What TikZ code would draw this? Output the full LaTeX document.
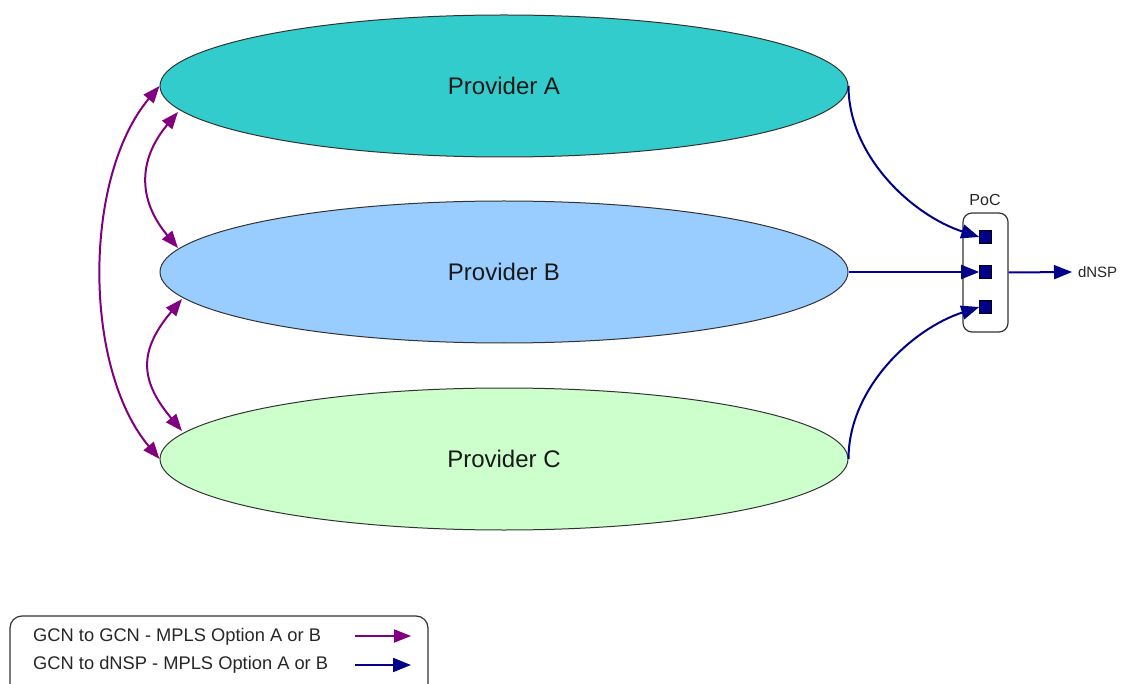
\documentclass[tikz,border=0pt]{standalone}
\usepackage{fontspec}
\setmainfont{Liberation Sans}
\usetikzlibrary{arrows.meta,calc,shapes.geometric}
\definecolor{provA}{HTML}{33CCCC}
\definecolor{provB}{HTML}{99CCFF}
\definecolor{provC}{HTML}{CCFFCC}
\definecolor{gcn}{HTML}{800080}
\definecolor{dnsp}{HTML}{000088}
\definecolor{edge}{HTML}{333333}
\tikzset{
  provider/.style={ellipse, draw=edge, line width=1pt, minimum width=688pt, minimum height=142pt, inner sep=0pt,
    font=\fontsize{24}{28}\selectfont, text=black!90},
  port/.style={rectangle, draw=black, fill=dnsp, line width=0.6pt, minimum width=12pt, minimum height=13pt, inner sep=0pt},
  pocbox/.style={rectangle, rounded corners=9pt, draw=edge, line width=1.2pt, minimum width=45pt, minimum height=119pt, inner sep=0pt},
  smalltext/.style={font=\fontsize{15}{18}\selectfont, text=black!85, inner sep=0pt, outer sep=0pt},
  legtext/.style={font=\fontsize{18.3}{21}\selectfont, text=black!85, inner sep=0pt, anchor=west},
  gcnarrow/.style={draw=gcn, line width=2pt, {Triangle[length=17pt,width=13pt]}-{Triangle[length=17pt,width=13pt]}},
  gcnone/.style={draw=gcn, line width=2pt, -{Triangle[length=17pt,width=13pt]}},
  dnsparrow/.style={draw=dnsp, line width=2pt, -{Triangle[length=18pt,width=14pt]}},
}
\begin{document}
\begin{tikzpicture}[x=1pt,y=-1pt]
\useasboundingbox (0,0) rectangle (1129,684);
% providers
\node[provider, fill=provA] (A) at (504,86) {Provider A};
\node[provider, fill=provB] (B) at (504,272) {Provider B};
\node[provider, fill=provC] (C) at (504,459) {Provider C};
% PoC
\node[pocbox] (poc) at (985.5,272.5) {};
\node[smalltext, font=\fontsize{16}{19}\selectfont] (poclabel) at (985,200) {PoC};
\node[port] (s1) at (985.5,237) {};
\node[port] (s2) at (985.5,272) {};
\node[port] (s3) at (985.5,307) {};
\node[smalltext, anchor=west] (out) at (1078,272) {dNSP};
\coordinate (outend) at ($(out.west)+(-6,0)$);
% border points for GCN links
\coordinate (a1) at ($(A.center)+(-326,26)$);
\coordinate (b1) at ($(B.center)+(-326,-24)$);
\coordinate (b2) at ($(B.center)+(-322,27)$);
\coordinate (c1) at ($(C.center)+(-322,-28)$);
% GCN links
\draw[gcnarrow] (A.west) to[out=230,in=130,looseness=0.82] (C.west);
\draw[gcnarrow] (a1) to[out=230,in=130,looseness=1.18] (b1);
\draw[gcnarrow] (b2) to[out=230,in=130,looseness=1.3] (c1);
% dNSP links
\draw[dnsparrow] (A.east) to[out=-90,in=162,looseness=0.9] (s1.west);
\draw[dnsparrow] (B.east) -- (s2.west);
\draw[dnsparrow] (C.east) to[out=90,in=198,looseness=0.9] (s3.west);
\draw[dnsparrow] (poc.east) -- (outend);
% legend
\node[draw=edge, line width=1.2pt, rounded corners=12pt, minimum width=418pt, minimum height=90pt, inner sep=0pt] (legend) at (219,661) {};
\node[legtext] (l1) at (33,637) {GCN to GCN - MPLS Option A or B};
\node[legtext] (l2) at (33,665) {GCN to dNSP - MPLS Option A or B};
\coordinate (p1s) at (355,636);
\coordinate (p1e) at (411,636);
\coordinate (p2s) at (355,665);
\coordinate (p2e) at (411,665);
\draw[gcnone] (p1s) -- (p1e);
\draw[dnsparrow] (p2s) -- (p2e);
\end{tikzpicture}
\end{document}
